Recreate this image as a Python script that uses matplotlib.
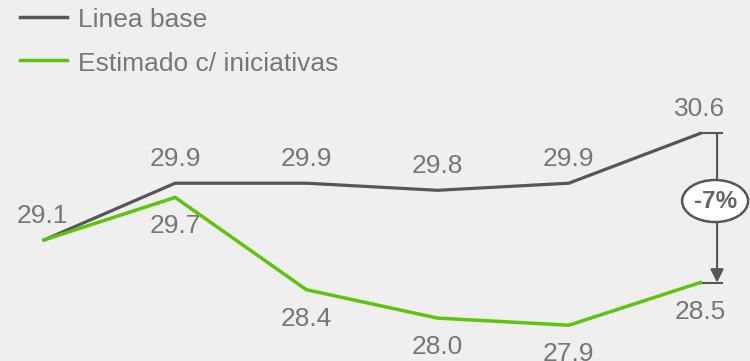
import matplotlib
matplotlib.use("Agg")
import matplotlib.pyplot as plt
from matplotlib.patches import Ellipse

periods = [0, 1, 2, 3, 4, 5]
base = [29.1, 29.9, 29.9, 29.8, 29.9, 30.6]
estimado = [29.1, 29.7, 28.4, 28.0, 27.9, 28.5]
series_names = ["Linea base", "Estimado c/ iniciativas"]
change_label = "-7%"

GRAY = "#565656"
GREEN = "#5cc40c"
TEXT = "#777777"
BG = "#efefef"

plt.rcParams["font.family"] = ["Liberation Sans", "DejaVu Sans"]

W, H = 750, 361
fig = plt.figure(figsize=(W / 100, H / 100), dpi=100, facecolor=BG)
ax = fig.add_axes([0, 0, 1, 1])
ax.set_facecolor(BG)
ax.set_xlim(-0.335, 5.381)
ax.set_ylim(27.396, 32.480)
ax.axis("off")

ax.plot(periods, base, color=GRAY, lw=2.3, solid_joinstyle="miter", zorder=3)
ax.plot(periods, estimado, color=GREEN, lw=2.5, solid_joinstyle="miter", zorder=4)

PX = 0.72  # points per pixel at 100 dpi
fs = 19
# baseline labels above the reference series, below the estimate
for i, v in enumerate(base):
    ax.annotate(f"{v:.1f}", (i, v), xytext=(-1 if i == 0 else 0, 17.5 * PX),
                textcoords="offset points", ha="center", va="baseline",
                fontsize=fs, color=TEXT)
for i, v in enumerate(estimado):
    if i == 0:
        continue
    ax.annotate(f"{v:.1f}", (i, v), xytext=(0, -36 * PX), textcoords="offset points",
                ha="center", va="baseline", fontsize=fs, color=TEXT)

# change bracket between final values
bx = 5.13
top, bot = base[-1], estimado[-1]
ax.plot([5.0, 5.168], [top, top], color=GRAY, lw=1.5, zorder=2)
ax.plot([5.0, 5.168], [bot, bot], color=GRAY, lw=1.5, zorder=2)
ax.annotate("", xy=(bx, bot), xytext=(bx, top),
            arrowprops=dict(arrowstyle="-|>", color=GRAY, lw=1.5,
                            mutation_scale=20, shrinkA=0, shrinkB=0), zorder=3)
ecx, ecy = 5.115, 29.649
ax.add_patch(Ellipse((ecx, ecy), 0.503, 0.592, facecolor="white",
                     edgecolor=GRAY, lw=1.8, zorder=5))
ax.text(ecx, ecy, change_label, ha="center", va="center", fontsize=17.5,
        fontweight="bold", color="#666666", zorder=6)

# legend
for name, col, ly, ty in [(series_names[0], GRAY, 17.3, 27), (series_names[1], GREEN, 60, 71)]:
    ax.plot([20 / W, 67 / W], [1 - ly / H, 1 - ly / H], transform=ax.transAxes,
            color=col, lw=2.5)
    ax.text(78 / W, 1 - ty / H, name, transform=ax.transAxes, ha="left", va="baseline",
            fontsize=fs, color=TEXT)

fig.savefig("out.png", dpi=100, facecolor=BG)
